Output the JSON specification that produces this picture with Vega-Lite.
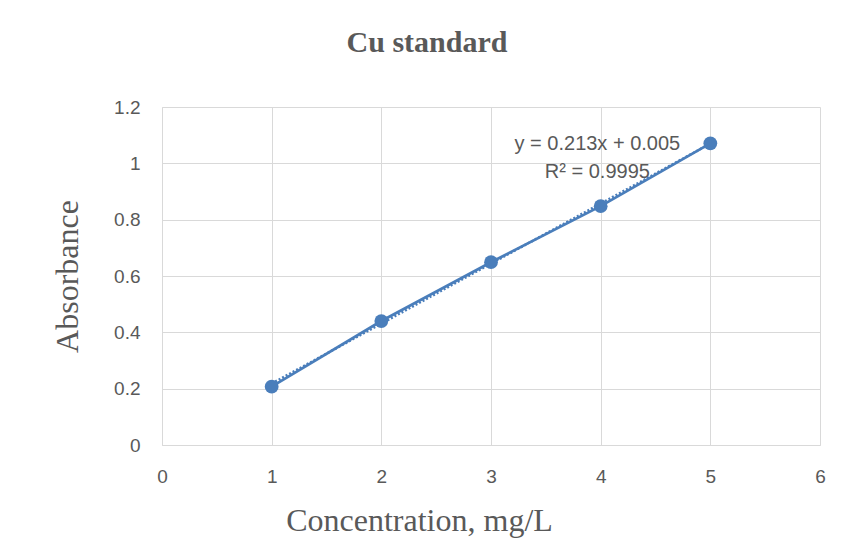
{
  "$schema": "https://vega.github.io/schema/vega-lite/v6.json",
  "width": 658,
  "height": 338,
  "autosize": {"type": "none"},
  "padding": {"left": 162, "top": 107, "right": 35, "bottom": 109},
  "background": "white",
  "title": {
    "text": "Cu standard",
    "font": "Liberation Serif",
    "fontSize": 30,
    "fontWeight": "bold",
    "color": "#595959",
    "anchor": "middle",
    "frame": "group",
    "dx": -64,
    "offset": 40
  },
  "datasets": {
    "points": [
      {"conc": 1, "abs": 0.207},
      {"conc": 2, "abs": 0.44},
      {"conc": 3, "abs": 0.649},
      {"conc": 4, "abs": 0.848},
      {"conc": 5, "abs": 1.071}
    ],
    "trend": [
      {"conc": 1, "abs": 0.218},
      {"conc": 5, "abs": 1.07}
    ],
    "labels": [
      {"conc": 3.97, "abs": 1.046, "text": "y = 0.213x + 0.005"},
      {"conc": 3.97, "abs": 0.947, "text": "R² = 0.9995"}
    ]
  },
  "config": {
    "view": {"stroke": null},
    "axis": {
      "gridColor": "#d9d9d9",
      "gridWidth": 1,
      "domainColor": "#d9d9d9",
      "ticks": false,
      "labelFont": "Liberation Sans",
      "labelFontSize": 19,
      "labelColor": "#595959",
      "labelFlush": false,
      "labelOverlap": false,
      "titleFont": "Liberation Serif",
      "titleFontSize": 32,
      "titleFontWeight": "normal",
      "titleColor": "#595959"
    }
  },
  "layer": [
    {
      "data": {"name": "trend"},
      "mark": {"type": "line", "color": "#4a7ebb", "strokeWidth": 2.5, "strokeDash": [2, 2]},
      "encoding": {
        "x": {"field": "conc", "type": "quantitative"},
        "y": {"field": "abs", "type": "quantitative"}
      }
    },
    {
      "data": {"name": "points"},
      "mark": {"type": "line", "color": "#4a7ebb", "strokeWidth": 2.75, "point": {"filled": true, "size": 190, "color": "#4a7ebb", "opacity": 1}},
      "encoding": {
        "x": {
          "field": "conc",
          "type": "quantitative",
          "scale": {"domain": [0, 6], "nice": false, "zero": false},
          "axis": {
            "values": [0, 1, 2, 3, 4, 5, 6],
            "format": "d",
            "title": "Concentration, mg/L",
            "labelPadding": 22,
            "grid": true,
            "titleX": 257,
            "titleY": 85,
            "titleAlign": "center",
            "titleBaseline": "alphabetic",
            "titleAnchor": null
          }
        },
        "y": {
          "field": "abs",
          "type": "quantitative",
          "scale": {"domain": [0, 1.2], "nice": false},
          "axis": {
            "values": [0, 0.2, 0.4, 0.6, 0.8, 1, 1.2],
            "format": "~g",
            "title": "Absorbance",
            "labelPadding": 22,
            "grid": true,
            "titleX": -85,
            "titleBaseline": "alphabetic"
          }
        }
      }
    },
    {
      "data": {"name": "labels"},
      "mark": {"type": "text", "font": "Liberation Sans", "fontSize": 20, "color": "#595959", "align": "center", "baseline": "alphabetic"},
      "encoding": {
        "x": {"field": "conc", "type": "quantitative"},
        "y": {"field": "abs", "type": "quantitative"},
        "text": {"field": "text"}
      }
    }
  ]
}
